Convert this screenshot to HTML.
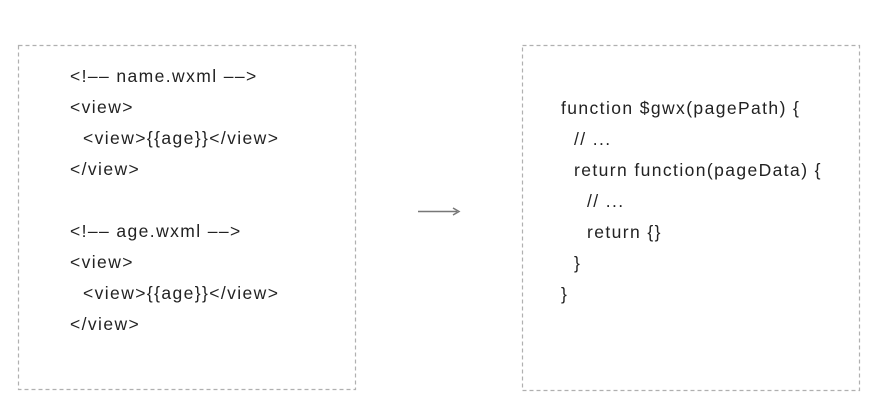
<!DOCTYPE html>
<html><head><style>
body{margin:0;width:890px;height:414px;background:#fff;position:relative;overflow:hidden;font-family:"Liberation Sans",sans-serif;}
.t{position:absolute;font-size:17.5px;color:#222;white-space:pre;line-height:20px;letter-spacing:1.4px;}
</style></head><body>
<svg style="position:absolute;left:0;top:0" width="890" height="414">
<rect x="18.5" y="45.5" width="337" height="344" fill="none" stroke="#b0b0b0" stroke-width="1.2" stroke-dasharray="4 3"/>
<rect x="522.5" y="45.5" width="337" height="345" fill="none" stroke="#b0b0b0" stroke-width="1.2" stroke-dasharray="4 3"/>
<line x1="418" y1="211.5" x2="457" y2="211.5" stroke="#777" stroke-width="1.5"/>
<path d="M453,208 L459,211.5 L453,215" fill="none" stroke="#777" stroke-width="1.5"/>
</svg>
<div class="t" style="left:70px;top:66px">&lt;!–– name.wxml ––&gt;</div>
<div class="t" style="left:70px;top:97px">&lt;view&gt;</div>
<div class="t" style="left:83px;top:128px">&lt;view&gt;{{age}}&lt;/view&gt;</div>
<div class="t" style="left:70px;top:159px">&lt;/view&gt;</div>
<div class="t" style="left:70px;top:221px">&lt;!–– age.wxml ––&gt;</div>
<div class="t" style="left:70px;top:252px">&lt;view&gt;</div>
<div class="t" style="left:83px;top:283px">&lt;view&gt;{{age}}&lt;/view&gt;</div>
<div class="t" style="left:70px;top:314px">&lt;/view&gt;</div>
<div class="t" style="left:561px;top:98px">function $gwx(pagePath) {</div>
<div class="t" style="left:574px;top:129px">// ...</div>
<div class="t" style="left:574px;top:160px">return function(pageData) {</div>
<div class="t" style="left:587px;top:191px">// ...</div>
<div class="t" style="left:587px;top:222px">return {}</div>
<div class="t" style="left:574px;top:253px">}</div>
<div class="t" style="left:561px;top:284px">}</div>
</body></html>
